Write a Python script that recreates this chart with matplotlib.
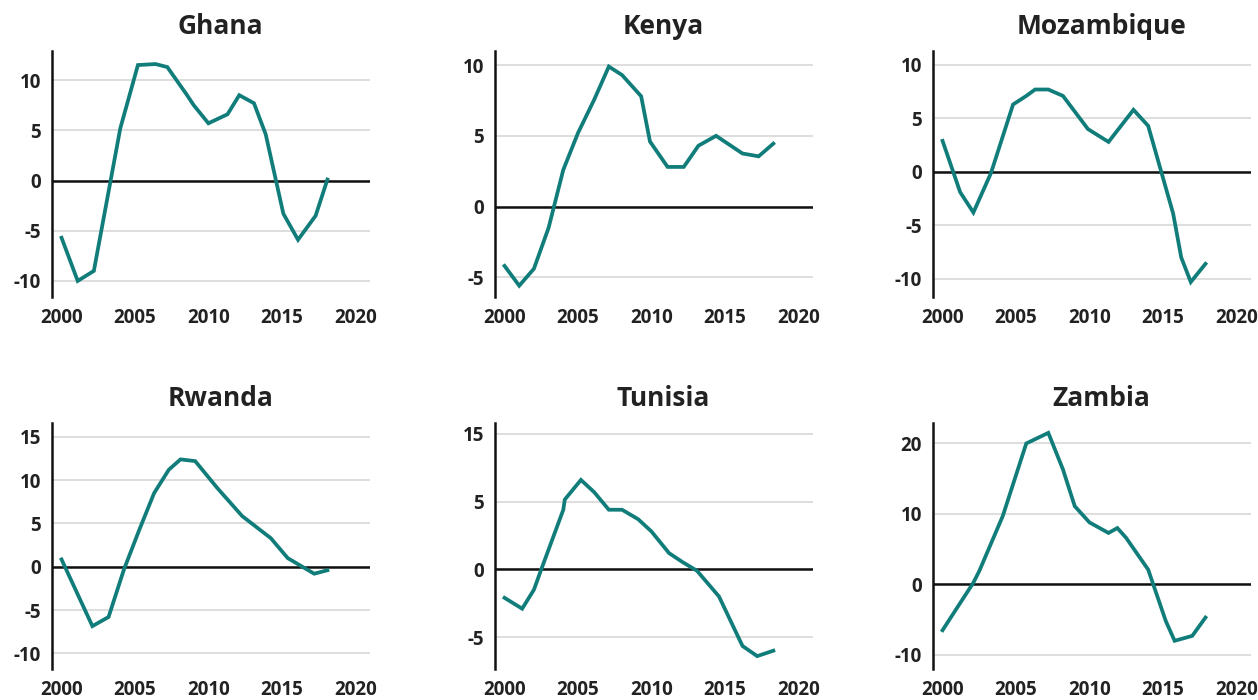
import matplotlib
matplotlib.use("Agg")
import matplotlib.pyplot as plt

plt.rcParams['font.family'] = ['Open Sans', 'DejaVu Sans']

#===== data (year, value) =====#
ghana_x = [2000, 2001.1, 2002.2, 2004.0, 2005.2, 2006.4, 2007.2, 2008.5, 2009.0, 2010.0,
           2011.3, 2012.1, 2013.1, 2013.9, 2015.1, 2016.1, 2017.3, 2018.1]
ghana_y = [-5.7, -10.0, -9.0, 5.2, 11.5, 11.6, 11.3, 8.6, 7.5, 5.7,
           6.6, 8.5, 7.7, 4.6, -3.3, -5.9, -3.5, 0.1]

kenya_x = [2000, 2001.0, 2002.0, 2003.0, 2004.0, 2005.0, 2006.1, 2007.1, 2008.0, 2009.3,
           2009.9, 2011.1, 2012.2, 2013.2, 2014.4, 2016.2, 2017.3, 2018.3]
kenya_y = [-4.2, -5.6, -4.4, -1.5, 2.6, 5.2, 7.55, 9.9, 9.3, 7.8,
           4.6, 2.8, 2.8, 4.3, 5.0, 3.75, 3.55, 4.45]

mozambique_x = [2000, 2001.2, 2002.1, 2003.3, 2004.8, 2005.7, 2006.3, 2007.2, 2008.2, 2009.9,
                2011.3, 2013.0, 2014.0, 2015.7, 2016.25, 2016.9, 2017.9]
mozambique_y = [2.9, -1.9, -3.8, -0.1, 6.3, 7.1, 7.7, 7.7, 7.1, 4.0,
                2.8, 5.8, 4.3, -3.9, -8.0, -10.3, -8.6]

rwanda_x = [2000, 2002.1, 2003.2, 2004.25, 2005.3, 2006.3, 2007.3, 2008.1, 2009.1, 2010.6,
            2012.3, 2014.25, 2015.4, 2017.2, 2018.1]
rwanda_y = [0.85, -6.85, -5.8, -0.3, 4.3, 8.5, 11.2, 12.4, 12.2, 9.1,
            5.85, 3.3, 1.0, -0.8, -0.4]

tunisia_x = [2000, 2001.2, 2002.0, 2002.5, 2004.0, 2004.1, 2005.2, 2006.1, 2007.1, 2008.0,
             2009.1, 2010.0, 2011.2, 2012.1, 2013.1, 2014.6, 2016.2, 2017.2, 2018.3]
tunisia_y = [-2.1, -2.9, -1.5, 0.0, 4.4, 5.15, 6.6, 5.7, 4.4, 4.4,
             3.7, 2.8, 1.2, 0.55, -0.1, -2.0, -5.65, -6.4, -6.0]

zambia_x = [2000, 2002.1, 2002.5, 2004.1, 2005.7, 2007.2, 2008.2, 2009.0, 2010.0, 2011.3,
            2011.9, 2012.5, 2014.0, 2015.2, 2015.8, 2017.0, 2017.9]
zambia_y = [-6.5, 0.25, 1.9, 9.7, 20.0, 21.5, 16.3, 11.1, 8.8, 7.3,
            8.0, 6.6, 2.1, -5.2, -8.0, -7.3, -4.7]

countries = ['Ghana', 'Kenya', 'Mozambique', 'Rwanda', 'Tunisia', 'Zambia']
series_x = [ghana_x, kenya_x, mozambique_x, rwanda_x, tunisia_x, zambia_x]
series_y = [ghana_y, kenya_y, mozambique_y, rwanda_y, tunisia_y, zambia_y]

yticks = [[-10, -5, 0, 5, 10], [-5, 0, 5, 10], [-10, -5, 0, 5, 10],
          [-10, -5, 0, 5, 10, 15], [-5, 0, 5, 10], [-10, 0, 10, 20]]
ytick_labels = [['-10', '-5', '0', '5', '10'], ['-5', '0', '5', '10'],
                ['-10', '-5', '0', '5', '10'], ['-10', '-5', '0', '5', '10', '15'],
                ['-5', '0', '5', '15'], ['-10', '0', '10', '20']]
ylims = [(-11.6, 12.9), (-6.4, 11.0), (-11.7, 11.3), (-11.8, 16.6), (-7.35, 10.8), (-12.0, 22.9)]
xticks = [2000, 2005, 2010, 2015, 2020]

#===== layout (figure pixels) =====#
W, H = 1258, 700
lefts = [52, 495, 933]
width = 318
tops = [51, 423]
height = 246

teal = '#117d7a'

fig = plt.figure(figsize=(W / 100, H / 100), dpi=100)

for i, name in enumerate(countries):
    r, c = divmod(i, 3)
    ax = fig.add_axes([lefts[c] / W, 1 - (tops[r] + height) / H, width / W, height / H])
    ax.set_xlim(1999.35, 2021.0)
    ax.set_ylim(*ylims[i])
    ax.set_yticks(yticks[i], labels=ytick_labels[i])
    ax.set_xticks(xticks, labels=[str(t) for t in xticks])
    ax.grid(axis='y', color='#d4d4d4', linewidth=1.1)
    ax.set_axisbelow(True)
    ax.axhline(0, color='#111111', linewidth=1.8, zorder=2)
    ax.plot(series_x[i], series_y[i], color=teal, linewidth=2.7, zorder=3,
            solid_joinstyle='miter')
    for s in ['top', 'right', 'bottom']:
        ax.spines[s].set_visible(False)
    ax.spines['left'].set_linewidth(1.8)
    ax.spines['left'].set_color('#111111')
    ax.tick_params(axis='both', length=0, labelsize=13.5, colors='#222222')
    ax.tick_params(axis='y', pad=8)
    ax.tick_params(axis='x', pad=8)
    for lab in ax.get_xticklabels() + ax.get_yticklabels():
        lab.set_fontweight('bold')
    ax.set_title(name, fontsize=19, fontweight='bold', color='#222222', pad=12,
                 x=0.53)

fig.savefig('out.png', dpi=100)
